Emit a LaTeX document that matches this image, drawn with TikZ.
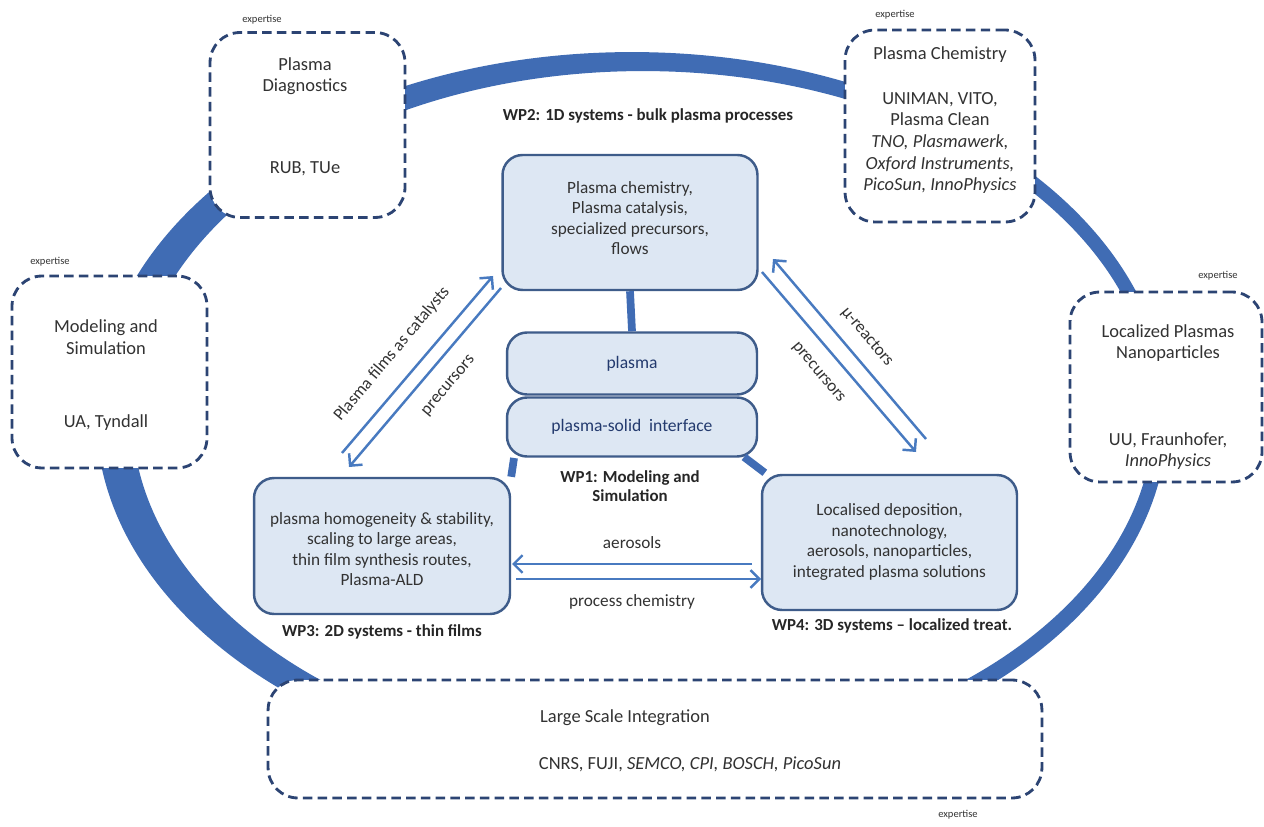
\documentclass[tikz,border=0pt]{standalone}
\usepackage{fontspec}
\setmainfont{Carlito}
\usetikzlibrary{arrows.meta,calc}
\definecolor{ringblue}{RGB}{64,108,180}
\definecolor{dashcol}{RGB}{44,68,115}
\definecolor{boxfill}{RGB}{221,231,243}
\definecolor{boxline}{RGB}{62,92,138}
\definecolor{arrowcol}{RGB}{72,122,192}
\definecolor{txtcol}{RGB}{50,50,50}
\definecolor{plasmatxt}{RGB}{35,58,110}
\begin{document}
\begin{tikzpicture}[x=0.02cm,y=-0.02cm,
  expbox/.style={draw=dashcol, line width=1.6pt, dash pattern=on 5.4pt off 3pt, rounded corners=0.6cm, fill=white, inner sep=0pt},
  wpbox/.style={draw=boxline, fill=boxfill, line width=1.4pt, rounded corners=0.4cm, inner sep=0pt},
  txt/.style={text=txtcol, font=\fontsize{10.5}{12.3}\selectfont, align=center, inner sep=0pt},
  stxt/.style={text=txtcol, font=\fontsize{9.8}{11.6}\selectfont, align=center, inner sep=0pt},
  lbl/.style={text=black!85, font=\bfseries\fontsize{9.6}{11}\selectfont, align=center, inner sep=0pt},
  expl/.style={text=black!80, font=\fontsize{6}{7}\selectfont, inner sep=0pt},
  flow/.style={draw=arrowcol, line width=1.4pt, -{Straight Barb[length=5pt,width=10pt,line width=1.4pt]}},
  link/.style={draw=ringblue, line width=4.4pt}
]
\useasboundingbox (0,0) rectangle (1264,827);
\fill[white] (0,0) rectangle (1264,827);

% ring
\fill[ringblue, even odd rule] (632,415) ellipse [x radius=10.72cm, y radius=7.26cm]
  (643,414) ellipse [x radius=10.22cm, y radius=6.86cm];

% expertise boxes
\node[expbox, minimum width=3.9cm, minimum height=3.7cm] (diag) at (307.5,125) {};
\node[txt] (diagt) at (305,76) {Plasma\\Diagnostics};
\node[txt] (diagc) at (305,169) {RUB, TUe};
\node[expl] (diage) at (262,20) {expertise};

\node[expbox, minimum width=3.8cm, minimum height=3.84cm] (chem) at (940,126) {};
\node[txt] (chemt) at (940,55) {Plasma Chemistry};
\node[txt] (chemc) at (940,143) {UNIMAN, VITO,\\Plasma Clean\\\textit{TNO, Plasmawerk,}\\\textit{Oxford Instruments,}\\\textit{PicoSun, InnoPhysics}};
\node[expl] (cheme) at (895,15) {expertise};

\node[expbox, minimum width=3.9cm, minimum height=3.84cm] (model) at (109.5,372) {};
\node[txt] (modelt) at (106,337) {Modeling and\\Simulation};
\node[txt] (modelc) at (106,423) {UA, Tyndall};
\node[expl] (modele) at (50,262) {expertise};

\node[expbox, minimum width=3.84cm, minimum height=3.8cm] (local) at (1166,387) {};
\node[txt] (localt) at (1168,343) {Localized Plasmas\\Nanoparticles};
\node[txt] (localc) at (1168,451) {UU, Fraunhofer,\\\textit{InnoPhysics}};
\node[expl] (locale) at (1218,276) {expertise};

\node[expbox, minimum width=15.48cm, minimum height=2.36cm] (lsi) at (655,739) {};
\node[txt] (lsit) at (625,718) {Large Scale Integration};
\node[txt] (lsic) at (690,764) {CNRS, FUJI, \textit{SEMCO, CPI, BOSCH, PicoSun}};
\node[expl] (lsie) at (958,815) {expertise};

% central boxes
\node[wpbox, minimum width=5.1cm, minimum height=2.7cm] (chemb) at (630,222.5) {};
\node[stxt] (chembt) at (630,218) {Plasma chemistry,\\Plasma catalysis,\\specialized precursors,\\flows};
\node[wpbox, minimum width=5cm, minimum height=1.24cm, text=plasmatxt, font=\fontsize{10}{11}\selectfont] (plasma) at (632,363.5) {plasma};
\node[wpbox, minimum width=5cm, minimum height=1.18cm, text=plasmatxt, font=\fontsize{10}{11}\selectfont] (psi) at (632,427) {plasma-solid\ \ interface};

\node[wpbox, minimum width=5.12cm, minimum height=2.72cm] (wp3) at (382,546) {};
\node[stxt] (wp3t) at (382,549) {plasma homogeneity \& stability,\\scaling to large areas,\\thin film synthesis routes,\\Plasma-ALD};
\node[wpbox, minimum width=5.1cm, minimum height=2.7cm] (wp4) at (889.5,542.5) {};
\node[stxt] (wp4t) at (889.5,542) {Localised deposition,\\nanotechnology,\\aerosols, nanoparticles,\\integrated plasma solutions};

% central links
\draw[link] (chemb.south) -- (plasma.north);
\coordinate (l3a) at (514,458);
\coordinate (r4a) at (744,457);
\draw[link] (l3a) -- (wp3.north east);
\draw[link] (r4a) -- ($(wp4.north west)+(4,-1)$);

% labels
\node[lbl] (wp2l) at (648,116) {WP2: 1D systems - bulk plasma processes};
\node[lbl] (wp1l) at (630,486) {WP1: Modeling and\\Simulation};
\node[lbl] (wp3l) at (382,632) {WP3: 2D systems - thin films};
\node[lbl] (wp4l) at (892,626) {WP4: 3D systems -- localized treat.};

% flows left
\coordinate (a1s) at (342,453);
\coordinate (a1e) at (493,276);
\coordinate (a2s) at (501,288);
\coordinate (a2e) at (349,467);
\draw[flow] (a1s) -- (a1e);
\draw[flow] (a2s) -- (a2e);
\node[stxt, rotate=50] (a1l) at (392,354) {Plasma films as catalysts};
\node[stxt, rotate=50] (a2l) at (449,386) {precursors};

% flows right
\coordinate (b1s) at (926,439);
\coordinate (b1e) at (773,259);
\coordinate (b2s) at (762,272);
\coordinate (b2e) at (916,452);
\draw[flow] (b1s) -- (b1e);
\draw[flow] (b2s) -- (b2e);
\node[stxt, rotate=-50] (b1l) at (867,337) {µ-reactors};
\node[stxt, rotate=-50] (b2l) at (818,373) {precursors};

% horizontal flows
\coordinate (h1s) at (752,564);
\coordinate (h1e) at (512,564);
\coordinate (h2s) at (516,579);
\coordinate (h2e) at (761,579);
\draw[flow] (h1s) -- (h1e);
\draw[flow] (h2s) -- (h2e);
\node[stxt] (h1l) at (632,543) {aerosols};
\node[stxt] (h2l) at (632,602) {process chemistry};
\end{tikzpicture}
\end{document}
